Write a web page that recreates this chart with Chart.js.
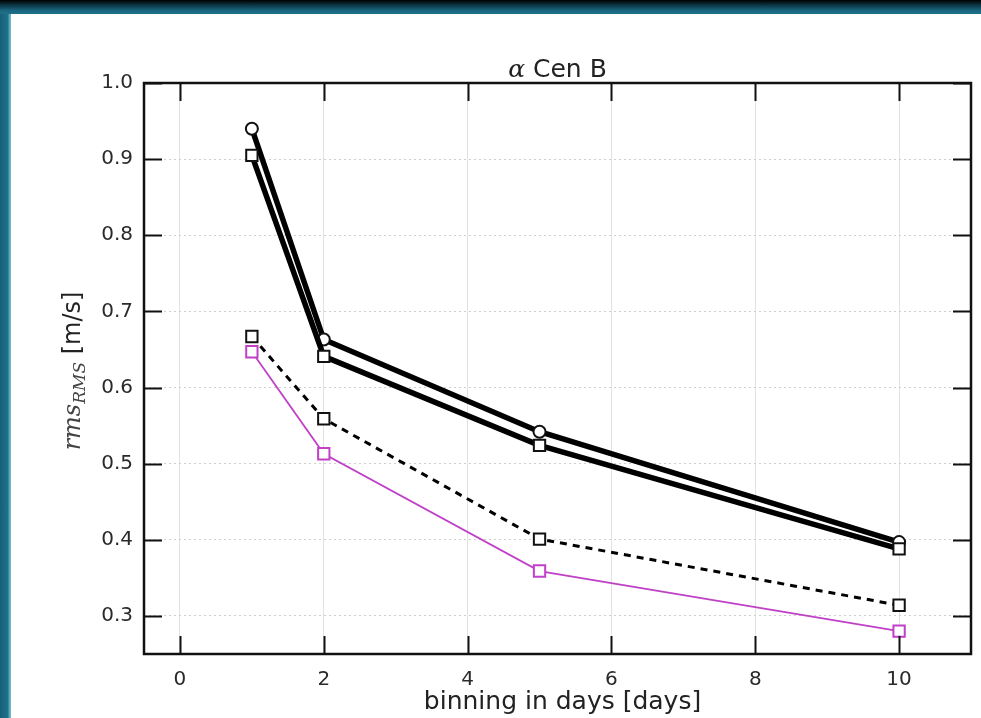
<!DOCTYPE html>
<html><head><meta charset="utf-8">
<script src="https://cdn.jsdelivr.net/npm/chart.js@4/dist/chart.umd.min.js"></script>
<style>
html,body{margin:0;padding:0;width:981px;height:718px;overflow:hidden;background:#1e6f88;}
#top{position:absolute;left:0;top:0;width:981px;height:14px;background:linear-gradient(to bottom,#000 0%,#0b3341 35%,#1b6680 75%,#1f728b 100%);}
#left{position:absolute;left:0;top:14px;width:11px;height:704px;background:linear-gradient(to right,#17607a 0%,#1f7189 70%,#5aa4b8 85%,#7cbccc 100%);}
#paper{position:absolute;left:11px;top:14px;width:970px;height:704px;background:#fff;}
canvas{position:absolute;left:0;top:0;}
</style></head>
<body>
<div id="top"></div><div id="left"></div><div id="paper"></div>
<canvas id="c" width="981" height="718"></canvas>
<script>
// ---- data ----
const binDays    = [1, 2, 5, 10];
const rmsCircle  = [0.940, 0.663, 0.542, 0.397];
const rmsSquare  = [0.905, 0.641, 0.524, 0.388];
const rmsDashed  = [0.667, 0.559, 0.401, 0.314];
const rmsMagenta = [0.647, 0.513, 0.359, 0.280];
const xTicks = [0, 2, 4, 6, 8, 10];
const yTicks = [0.3, 0.4, 0.5, 0.6, 0.7, 0.8, 0.9, 1.0];
const xRange = [-0.5, 11];
const yRange = [0.25, 1.0];
const titleText = ' Cen B';
const xLabel = 'binning in days [days]';

const pts = arr => binDays.map((d, i) => ({x: d, y: arr[i]}));

const frameTicks = {
  id: 'frameTicks',
  afterDatasetsDraw(chart) {
    const {ctx, chartArea: a, scales: {x, y}} = chart;
    ctx.save();
    ctx.strokeStyle = '#111';
    ctx.lineWidth = 2;
    const L = 18;
    ctx.beginPath();
    x.ticks.forEach(t => {
      const px = Math.round(x.getPixelForValue(t.value)) + 0.5;
      ctx.moveTo(px, a.bottom); ctx.lineTo(px, a.bottom - L);
      ctx.moveTo(px, a.top); ctx.lineTo(px, a.top + L);
    });
    y.ticks.forEach(t => {
      const py = Math.round(y.getPixelForValue(t.value)) + 0.5;
      ctx.moveTo(a.left, py); ctx.lineTo(a.left + L, py);
      ctx.moveTo(a.right, py); ctx.lineTo(a.right - L, py);
    });
    ctx.stroke();
    ctx.lineWidth = 2.5;
    ctx.strokeRect(a.left, a.top, a.right - a.left, a.bottom - a.top);

    // title: alpha Cen B
    ctx.fillStyle = '#222';
    ctx.textBaseline = 'alphabetic';
    const fA = 'italic 25px "DejaVu Serif"';
    const fT = '25px "DejaVu Sans"';
    ctx.font = fA; const wA = ctx.measureText('\u03b1').width;
    ctx.font = fT; const wT = ctx.measureText(titleText).width;
    const cx = (a.left + a.right) / 2;
    let sx = cx - (wA + wT) / 2;
    ctx.font = fA; ctx.fillText('\u03b1', sx, 77);
    ctx.font = fT; ctx.fillText(titleText, sx + wA, 77);

    // x label
    ctx.font = '25px "DejaVu Sans"';
    ctx.textAlign = 'center';
    ctx.fillText(xLabel, cx + 5, 709);

    // y label: rms_RMS [m/s]
    ctx.save();
    ctx.translate(80, 371);
    ctx.rotate(-Math.PI / 2);
    ctx.textAlign = 'left';
    const f1 = 'italic 24px "DejaVu Serif"', f2 = 'italic 17px "DejaVu Serif"', f3 = '24px "DejaVu Sans"';
    ctx.font = f1; const w1 = ctx.measureText('rms').width;
    ctx.font = f2; const w2 = ctx.measureText('RMS').width;
    ctx.font = f3; const w3 = ctx.measureText(' [m/s]').width;
    let s = -(w1 + w2 + w3) / 2;
    ctx.fillStyle = '#444';
    ctx.font = f1; ctx.fillText('rms', s, 0); s += w1;
    ctx.font = f2; ctx.fillText('RMS', s, 5); s += w2;
    ctx.fillStyle = '#222';
    ctx.font = f3; ctx.fillText(' [m/s]', s, 0);
    ctx.restore();
    ctx.restore();
  }
};

new Chart(document.getElementById('c'), {
  type: 'line',
  data: {
    datasets: [
      {data: pts(rmsSquare), borderColor: '#000', borderWidth: 5.5, pointStyle: 'rect', pointRadius: 8,
       pointBackgroundColor: '#fff', pointBorderColor: '#111', pointBorderWidth: 2, tension: 0},
      {data: pts(rmsCircle), borderColor: '#000', borderWidth: 5.5, pointStyle: 'circle', pointRadius: 6,
       pointBackgroundColor: '#fff', pointBorderColor: '#111', pointBorderWidth: 2, tension: 0},
      {data: pts(rmsDashed), borderColor: '#000', borderWidth: 3, borderDash: [7, 6], pointStyle: 'rect', pointRadius: 8,
       pointBackgroundColor: '#fff', pointBorderColor: '#111', pointBorderWidth: 2, tension: 0},
      {data: pts(rmsMagenta), borderColor: '#c040c8', borderWidth: 1.8, pointStyle: 'rect', pointRadius: 8,
       pointBackgroundColor: '#fff', pointBorderColor: '#c040c8', pointBorderWidth: 2, tension: 0}
    ]
  },
  options: {
    responsive: false,
    animation: false,
    devicePixelRatio: 1,
    layout: {padding: {left: 0, top: 83, right: 9, bottom: 0}},
    plugins: {legend: {display: false}, tooltip: {enabled: false}, title: {display: false}},
    scales: {
      x: {
        type: 'linear', min: xRange[0], max: xRange[1],
        afterBuildTicks: s => { s.ticks = xTicks.map(v => ({value: v})); },
        afterFit: s => { s.height = 64; },
        grid: {color: '#e2e2e2', lineWidth: 1, drawTicks: false},
        border: {display: false},
        ticks: {padding: 14, color: '#2a2a2a', font: {family: 'DejaVu Sans', size: 20}, maxRotation: 0,
                callback: v => String(v)}
      },
      y: {
        type: 'linear', min: yRange[0], max: yRange[1],
        afterBuildTicks: s => { s.ticks = yTicks.map(v => ({value: v})); },
        afterFit: s => { s.width = 144; },
        grid: {color: '#cfcfcf', lineWidth: 1, drawTicks: false},
        border: {display: false, dash: [2, 3]},
        ticks: {padding: 11, color: '#2a2a2a', font: {family: 'DejaVu Sans', size: 20},
                callback: v => v.toFixed(1)}
      }
    }
  },
  plugins: [frameTicks]
});
</script>
</body></html>
